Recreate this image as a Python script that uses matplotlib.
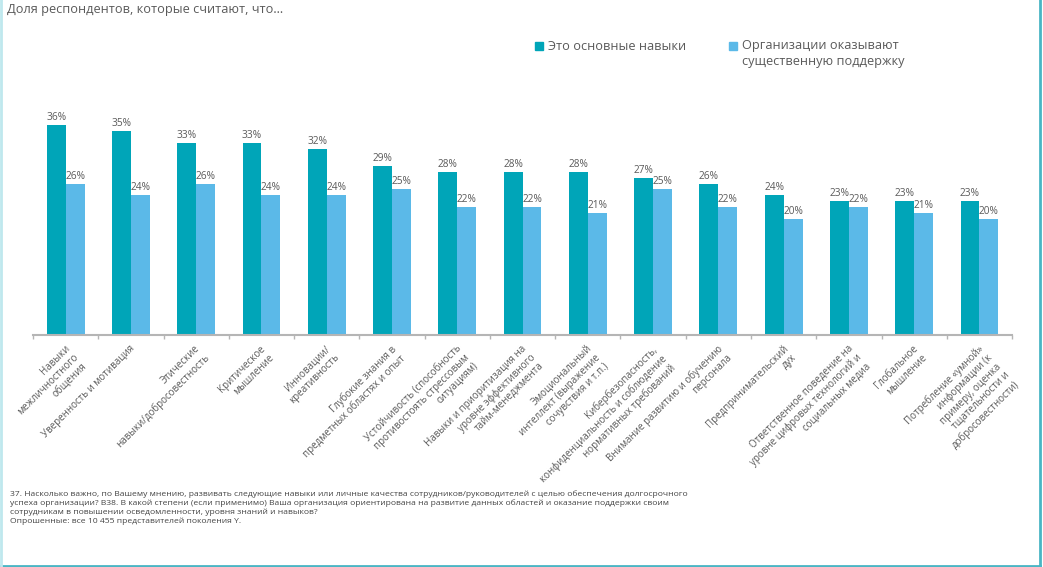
import matplotlib.pyplot as plt
import numpy as np

plt.rcParams['font.family'] = ['Open Sans', 'DejaVu Sans']

categories = [
    "Навыки\nмежличностного\nобщения",
    "Уверенность и мотивация",
    "Этические\nнавыки/добросовестность",
    "Критическое\nмышление",
    "Инновации/\nкреативность",
    "Глубокие знания в\nпредметных областях и опыт",
    "Устойчивость (способность\nпротивостоять стрессовым\nситуациям)",
    "Навыки и приоритизация на\nуровне эффективного\nтайм-менеджмента",
    "Эмоциональный\nинтеллект (выражение\nсочувствия и т.п.)",
    "Кибербезопасность,\nконфиденциальность и соблюдение\nнормативных требований",
    "Внимание развитию и обучению\nперсонала",
    "Предпринимательский\nдух",
    "Ответственное поведение на\nуровне цифровых технологий и\nсоциальных медиа",
    "Глобальное\nмышление",
    "Потребление «умной»\nинформации (к\nпримеру, оценка\nтщательности и\nдобросовестности)",
]
core_skills = [36, 35, 33, 33, 32, 29, 28, 28, 28, 27, 26, 24, 23, 23, 23]
org_support = [26, 24, 26, 24, 24, 25, 22, 22, 21, 25, 22, 20, 22, 21, 20]
series_names = ["Это основные навыки", "Организации оказывают\nсущественную поддержку"]

teal = '#00a5b8'
light = '#5bb9e8'
grey = '#5a5a5a'

fig = plt.figure(figsize=(10.43, 5.67), dpi=100)
ax = fig.add_axes([0.0316, 0.409, 0.9388, 0.411])

x = np.arange(len(categories))
w = 0.29
b1 = ax.bar(x - w / 2, core_skills, w, color=teal)
b2 = ax.bar(x + w / 2, org_support, w, color=light)
for bars, vals in ((b1, core_skills), (b2, org_support)):
    for r, v in zip(bars, vals):
        ax.text(r.get_x() + r.get_width() / 2, v + 0.35, f"{v}%", ha='center', va='bottom',
                fontsize=7.3, color=grey)

ax.set_xlim(-0.5, len(categories) - 0.5)
ax.set_ylim(0, 40)
for s in ['top', 'right', 'left']:
    ax.spines[s].set_visible(False)
ax.spines['bottom'].set_color('#b5b5b5')
ax.spines['bottom'].set_linewidth(1.5)
ax.set_yticks([])
ax.set_xticks(np.arange(len(categories) + 1) - 0.5)
ax.set_xticklabels([])
ax.tick_params(axis='x', length=3, color='#b5b5b5', width=1)

for i, lab in enumerate(categories):
    ax.annotate(lab, xy=(i, 0), xytext=(-1, -6), textcoords='offset points',
                rotation=45, rotation_mode='anchor', ha='right', va='top',
                multialignment='right', fontsize=7, color=grey, linespacing=1.15,
                annotation_clip=False)

# legend drawn by hand
fig.patches.append(plt.Rectangle((535 / 1043, 1 - 50 / 567), 8 / 1043, 8 / 567,
                                 transform=fig.transFigure, color=teal))
fig.patches.append(plt.Rectangle((729 / 1043, 1 - 50 / 567), 8 / 1043, 8 / 567,
                                 transform=fig.transFigure, color=light))
fig.text(548 / 1043, 1 - 46 / 567, series_names[0], fontsize=9.2, color=grey, va='center')
fig.text(742 / 1043, 1 - 39 / 567, series_names[1], fontsize=9.2, color=grey, va='top',
         linespacing=1.35)

fig.text(7 / 1043, 1 - 10 / 567, "Доля респондентов, которые считают, что...", fontsize=9.2,
         color=grey, va='center')

footnote = ("37. Насколько важно, по Вашему мнению, развивать следующие навыки или личные качества "
            "сотрудников/руководителей с целью обеспечения долгосрочного\n"
            "успеха организации? B38. В какой степени (если применимо) Ваша организация ориентирована "
            "на развитие данных областей и оказание поддержки своим\n"
            "сотрудникам в повышении осведомленности, уровня знаний и навыков?\n"
            "Опрошенные: все 10 455 представителей поколения Y.")
fig.text(10 / 1043, 1 - 490 / 567, footnote, fontsize=6.1, color='#444444', va='top',
         linespacing=1.3)

# frame lines
fig.add_artist(plt.Line2D([1040 / 1043, 1040 / 1043], [1 - 566 / 567, 1], transform=fig.transFigure,
                          color='#4ab5c4', linewidth=2))
fig.add_artist(plt.Line2D([0, 1040 / 1043], [1 - 566 / 567, 1 - 566 / 567], transform=fig.transFigure,
                          color='#4ab5c4', linewidth=2))
fig.add_artist(plt.Line2D([1 / 1043, 1 / 1043], [0, 1], transform=fig.transFigure,
                          color='#bfe8ee', linewidth=2))

fig.savefig('out.png', dpi=100)
